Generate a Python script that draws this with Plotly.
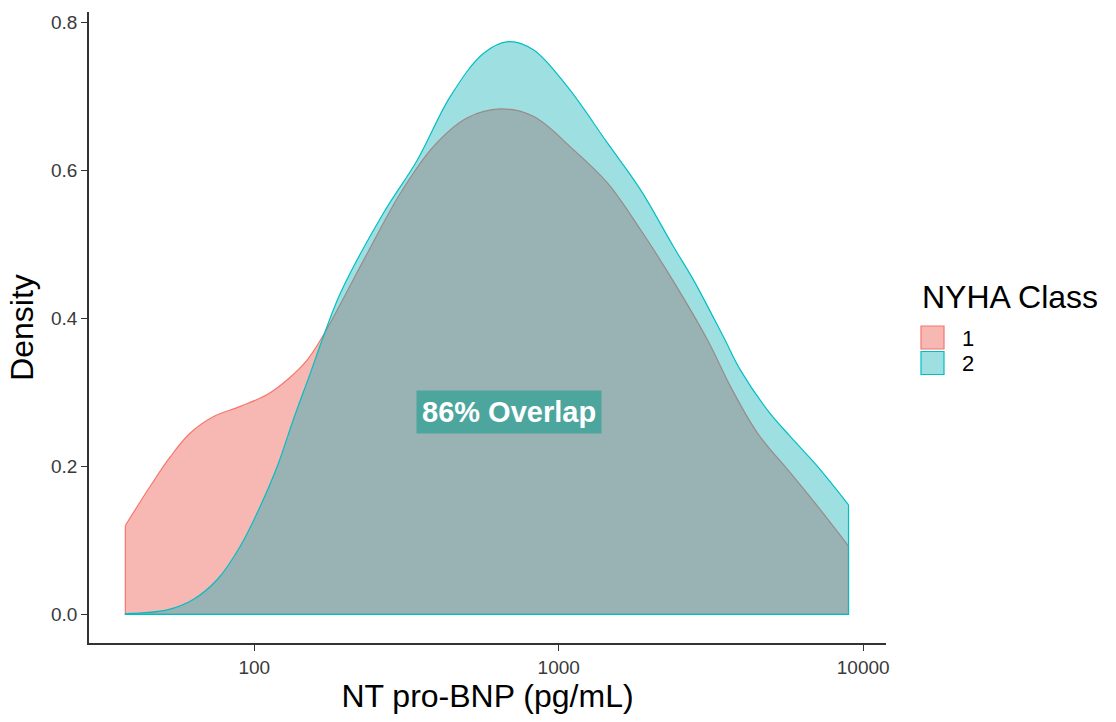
import math
import plotly.graph_objects as go

# ---- data ----
class1_x = [37.7, 45.5, 53.0, 61.6, 73.3, 89.9, 110.3, 128.3, 149.3, 167.3, 235.1, 301.8,
            387.3, 501.0, 643.3, 825.3, 1117, 1445, 1855, 2381, 3079, 3664,
            4495, 5770, 7241, 8951]
class1_y = [0.120, 0.173, 0.213, 0.245, 0.267, 0.281, 0.297, 0.317, 0.344, 0.375, 0.488, 0.569,
            0.632, 0.671, 0.683, 0.673, 0.628, 0.583, 0.520, 0.450, 0.371, 0.308,
            0.245, 0.191, 0.141, 0.092]

class2_x = [37.7, 51.8, 63.0, 75.6, 89.9, 104.6, 119.0, 134.3, 152.8, 168.5, 191.7,
            265.4, 343.2, 440.6, 565.4, 683.3, 825.3, 1067.6, 1445, 1855, 2381, 2770,
            3475, 3953, 4849, 5770, 7078, 8951]
class2_y = [0.001, 0.006, 0.020, 0.047, 0.092, 0.146, 0.200, 0.263, 0.326, 0.375, 0.434,
            0.542, 0.614, 0.700, 0.758, 0.774, 0.763, 0.713, 0.637, 0.574, 0.497, 0.452,
            0.375, 0.330, 0.276, 0.240, 0.200, 0.148]

group_names = ["1", "2"]
x_ticks = [100, 1000, 10000]
x_tick_labels = ["100", "1000", "10000"]
y_ticks = [0.0, 0.2, 0.4, 0.6, 0.8]
overlap_label = "86% Overlap"
overlap_pos = (687, 0.274)

# ---- styling ----
RED = "#F8766D"
TEAL = "#00BFC4"
RED_FILL = "rgba(240,112,104,0.5)"
TEAL_FILL = "rgba(0,170,178,0.38)"
FONT = "Liberation Sans, Arial, sans-serif"

fig = go.Figure()

for xs, ys, line_c, fill_c in [(class1_x, class1_y, RED, RED_FILL),
                               (class2_x, class2_y, TEAL, TEAL_FILL)]:
    fig.add_trace(go.Scatter(
        x=xs, y=ys, mode="lines", line=dict(color=line_c, width=1.2, shape="spline", smoothing=1.0),
        fill="tozeroy", fillcolor=fill_c, showlegend=False, hoverinfo="skip"))
    # outline of the remaining polygon edges (left side, baseline, right side)
    fig.add_trace(go.Scatter(
        x=[xs[0], xs[0], xs[-1], xs[-1]], y=[ys[0], 0, 0, ys[-1]], mode="lines",
        line=dict(color=line_c, width=1.2), showlegend=False, hoverinfo="skip"))

axis_common = dict(showline=True, linecolor="#333333", linewidth=1.6, ticks="outside",
                   ticklen=6, tickwidth=1.4, tickcolor="#333333", showgrid=False, zeroline=False,
                   tickfont=dict(family=FONT, size=19, color="#3A3A3A"))

fig.update_xaxes(type="log", range=[1.457, 4.075], tickvals=x_ticks, ticktext=x_tick_labels,
                 title=dict(text="NT pro-BNP (pg/mL)", font=dict(family=FONT, size=32, color="black"),
                            standoff=8),
                 **axis_common)
fig.update_yaxes(range=[-0.0388, 0.814], tickvals=y_ticks, tickformat=".1f",
                 title=dict(text="Density", font=dict(family=FONT, size=32, color="black"),
                            standoff=8),
                 **axis_common)

fig.add_annotation(x=math.log10(overlap_pos[0]), y=overlap_pos[1], xref="x", yref="y",
                   text="<b>" + overlap_label + "</b>", showarrow=False,
                   font=dict(family=FONT, size=29, color="white"),
                   bgcolor="#4CA69E", borderpad=5)

# ---- legend (drawn manually to match ggplot key sizes) ----
L, R, T, B = 89, 230, 12, 79
W, H = 1116, 722
pw, ph = W - L - R, H - T - B

def px(xp):
    return (xp - L) / pw

def py(yp):
    return (H - B - yp) / ph

fig.add_annotation(x=px(920), y=py(297), xref="paper", yref="paper", text="NYHA Class",
                   showarrow=False, xanchor="left", yanchor="middle",
                   font=dict(family=FONT, size=32, color="black"))
keys = [(326, 349, RED, RED_FILL), (351.5, 374.5, TEAL, TEAL_FILL)]
for name, (y0, y1, lc, fc) in zip(group_names, keys):
    fig.add_shape(type="rect", xref="paper", yref="paper", x0=px(921), x1=px(944),
                  y0=py(y1), y1=py(y0), line=dict(color=lc, width=1.2), fillcolor=fc)
    fig.add_annotation(x=px(960), y=py((y0 + y1) / 2), xref="paper", yref="paper", text=name,
                       showarrow=False, xanchor="left", yanchor="middle", height=22,
                       font=dict(family=FONT, size=22, color="black"))

fig.update_layout(width=W, height=H, margin=dict(l=L, r=R, t=T, b=B, autoexpand=False),
                  plot_bgcolor="white", paper_bgcolor="white", showlegend=False,
                  font=dict(family=FONT))

fig.write_html("out.html")
